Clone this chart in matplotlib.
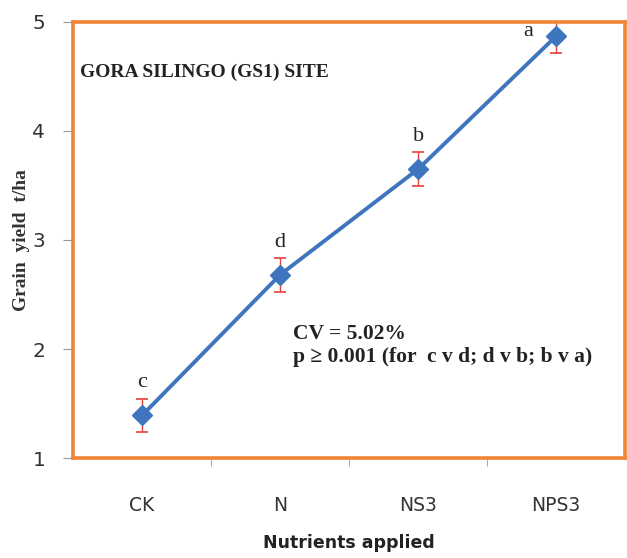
import matplotlib
matplotlib.use("Agg")
import matplotlib.pyplot as plt

categories = ["CK", "N", "NS3", "NPS3"]
yield_values = [1.39, 2.68, 3.65, 4.87]
yield_errors = [0.155, 0.155, 0.155, 0.15]
letters = ["c", "d", "b", "a"]
y_ticks = [1, 2, 3, 4, 5]

fig = plt.figure(figsize=(6.27, 5.58), dpi=100)
ax = fig.add_axes([0.1164, 0.1792, 0.997 - 0.1164, 0.9606 - 0.1792])

x = list(range(len(categories)))
blue = "#3E75BE"
ax.errorbar(x, yield_values, yerr=yield_errors, fmt="none", ecolor="#E8403A",
            elinewidth=1.0, capsize=4, capthick=1.2, zorder=2)
ax.plot(x, yield_values, color=blue, lw=2.8, zorder=3)
ax.plot(x, yield_values, linestyle="none", marker="D", markersize=10,
        color=blue, zorder=4, clip_on=False)

letter_offsets = [(0, 0.3), (0, 0.3), (0, 0.3), (-0.2, 0.04)]
for xi, yi, lt, off in zip(x, yield_values, letters, letter_offsets):
    ax.text(xi + off[0], yi + off[1], lt, ha="center", va="center",
            family=["Liberation Serif"], fontsize=16, color="#222222")

ax.set_xlim(-0.5, 3.5)
ax.set_ylim(1, 5)
ax.set_yticks(y_ticks)
ax.set_yticklabels([str(t) for t in y_ticks], fontsize=14.5, color="#333333")
ax.set_xticks(x)
ax.set_xticklabels(categories, fontsize=13.5, color="#333333")
ax.set_xticks([0.5, 1.5, 2.5], minor=True)
ax.tick_params(axis="x", which="major", length=0, pad=27)
ax.tick_params(axis="x", which="minor", length=6, color="#999999", direction="out")
ax.tick_params(axis="y", which="major", length=7, color="#999999", pad=13)

for s in ax.spines.values():
    s.set_color("#EE8535")
    s.set_linewidth(2.6)

ax.set_ylabel("Grain  yield  t/ha", family=["Liberation Serif"], fontweight="bold",
              fontsize=14, color="#333333", labelpad=2)
ax.set_xlabel("Nutrients applied", fontweight="bold", fontsize=12.5,
              color="#222222", labelpad=14)

ax.text(0.012, 0.885, "GORA SILINGO (GS1) SITE", transform=ax.transAxes,
        family=["Liberation Serif"], fontweight="bold", fontsize=14,
        color="#222222", va="center", ha="left")
ax.text(0.399, 0.285, "CV = 5.02%", transform=ax.transAxes,
        family=["Liberation Serif"], fontweight="bold", fontsize=15.5,
        color="#222222", va="center", ha="left")
ax.text(0.399, 0.232, "p \u2265 0.001 (for  c v d; d v b; b v a)", transform=ax.transAxes,
        family=["Liberation Serif", "DejaVu Serif"], fontweight="bold", fontsize=15.5,
        color="#222222", va="center", ha="left")

fig.savefig("out.png", dpi=100)
